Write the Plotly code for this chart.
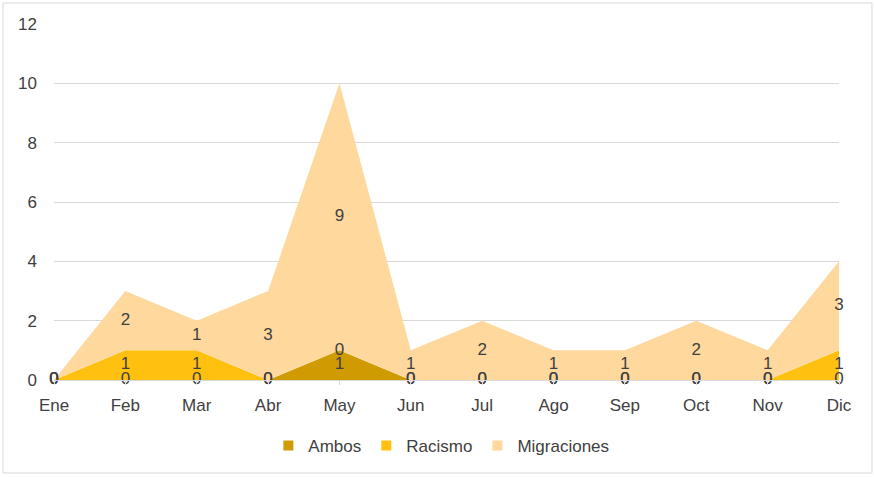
import plotly.graph_objects as go

months = ["Ene", "Feb", "Mar", "Abr", "May", "Jun", "Jul", "Ago", "Sep", "Oct", "Nov", "Dic"]
ambos = [0, 0, 0, 0, 1, 0, 0, 0, 0, 0, 0, 0]
racismo = [0, 1, 1, 0, 0, 0, 0, 0, 0, 0, 0, 1]
migraciones = [0, 2, 1, 3, 9, 1, 2, 1, 1, 2, 1, 3]
y_ticks = [0, 2, 4, 6, 8, 10, 12]

series = [("Ambos", ambos, "#CF9B00"), ("Racismo", racismo, "#FFC010"), ("Migraciones", migraciones, "#FED89D")]

W, H = 874, 477
ML, MR, MT, MB = 54, 35, 24, 97
font_fam = "Liberation Sans, Arial, sans-serif"
txt_col = "#404040"
FS = 17

fig = go.Figure()
base = [0] * len(months)
label_traces = []
for name, vals, col in series:
    fig.add_trace(go.Scatter(
        x=months, y=vals, name=name, stackgroup="one", mode="lines",
        line=dict(width=0, color=col), fillcolor=col, showlegend=False, hoverinfo="skip"))
    mids = [b + v / 2 for b, v in zip(base, vals)]
    label_traces.append(go.Scatter(
        x=months, y=mids, mode="text", text=[str(v) for v in vals],
        textposition="middle center", cliponaxis=False,
        textfont=dict(size=FS, color=txt_col, family=font_fam),
        showlegend=False, hoverinfo="skip"))
    base = [b + v for b, v in zip(base, vals)]

for t in label_traces:
    fig.add_trace(t)

for name, vals, col in series:
    fig.add_trace(go.Scatter(
        x=[None], y=[None], mode="markers", name=name,
        marker=dict(symbol="square", size=10, color=col)))

pw = W - ML - MR
ph = H - MT - MB
fig.add_shape(type="rect", xref="paper", yref="paper",
              x0=(3 - ML) / pw, x1=(872 - ML) / pw,
              y0=1 - (473 - MT) / ph, y1=1 - (3 - MT) / ph,
              line=dict(color="#D9D9D9", width=1), layer="below")

fig.update_layout(
    width=W, height=H,
    margin=dict(l=ML, r=MR, t=MT, b=MB, autoexpand=False),
    paper_bgcolor="white", plot_bgcolor="white",
    font=dict(family=font_fam, size=FS, color=txt_col),
    showlegend=True,
    legend=dict(orientation="h", x=0.505, xanchor="center", xref="container",
                y=(H - 446) / H, yanchor="middle", yref="container",
                bgcolor="rgba(0,0,0,0)", traceorder="normal",
                font=dict(size=FS, color=txt_col), itemwidth=30, tracegroupgap=0),
    xaxis=dict(type="category", categoryorder="array", categoryarray=months,
               range=[0, len(months) - 1], showgrid=False, zeroline=False,
               showline=True, linecolor="#D9D9D9", ticks="outside", ticklen=4,
               tickcolor="#D9D9D9", ticklabelstandoff=6,
               tickfont=dict(size=FS, color=txt_col)),
    yaxis=dict(range=[0, 12], tickvals=y_ticks, showgrid=True, gridcolor="#D9D9D9",
               zeroline=False, showline=False, ticks="", ticklabelstandoff=16,
               tickfont=dict(size=FS, color=txt_col)),
)

fig.write_html("out.html")
